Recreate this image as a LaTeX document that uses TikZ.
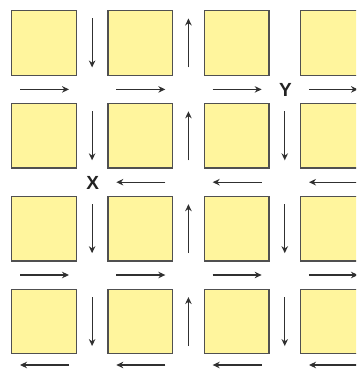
\documentclass[tikz,border=0pt]{standalone}
\usepackage{fontspec}
\newfontfamily\labfont{Liberation Sans}
\usetikzlibrary{arrows.meta}
\definecolor{boxfill}{HTML}{FFF59D}
\definecolor{boxline}{HTML}{505050}
\definecolor{arrowgray}{HTML}{303030}
\definecolor{labelgray}{HTML}{222222}
\begin{document}
\begin{tikzpicture}[x=1pt,y=-1pt,
  cell/.style={draw=boxline,fill=boxfill,line width=1.3pt,minimum size=64.5pt,inner sep=0pt,outer sep=0pt},
  arr/.style={draw=arrowgray,line width=1.2pt,-{Stealth[length=7pt,width=6.5pt]}},
  lab/.style={font=\labfont\bfseries\fontsize{19}{19}\selectfont,text=labelgray,inner sep=0pt}]
\useasboundingbox (0,0) rectangle (356,369);
\clip (0,0) rectangle (356,369);
% squares
\foreach \r in {0,...,3}{
  \foreach \c in {0,...,3}{
    \node[cell] (s\r\c) at ({43.95+96.33*\c},{42.95+92.87*\r}) {};
  }
}
% vertical arrows (down = 1, up = -1)
\foreach \r/\g/\d in {0/0/1,0/1/-1,
                      1/0/1,1/1/-1,1/2/1,
                      2/0/1,2/1/-1,2/2/1,
                      3/0/1,3/1/-1,3/2/1}{
  \coordinate (va\r\g) at ({92.1+96.33*\g},{42.95+92.87*\r-24.5*\d});
  \coordinate (vb\r\g) at ({92.1+96.33*\g},{42.95+92.87*\r+24.5*\d});
  \draw[arr] (va\r\g) -- (vb\r\g);
}
% horizontal arrows (right = 1, left = -1)
\foreach \y/\c/\d in {89.4/0/1,89.4/1/1,89.4/2/1,89.4/3/1,
                      182.2/1/-1,182.2/2/-1,182.2/3/-1,
                      275/0/1,275/1/1,275/2/1,275/3/1,
                      365/0/-1,365/1/-1,365/2/-1,365/3/-1}{
  \coordinate (ha) at ({44.5+96.33*\c-24.5*\d},\y);
  \coordinate (hb) at ({44.5+96.33*\c+24.5*\d},\y);
  \draw[arr] (ha) -- (hb);
}
% labels
\node[lab] (Y) at (285.5,90) {Y};
\node[lab] (X) at (92.8,182.7) {X};
\end{tikzpicture}
\end{document}
